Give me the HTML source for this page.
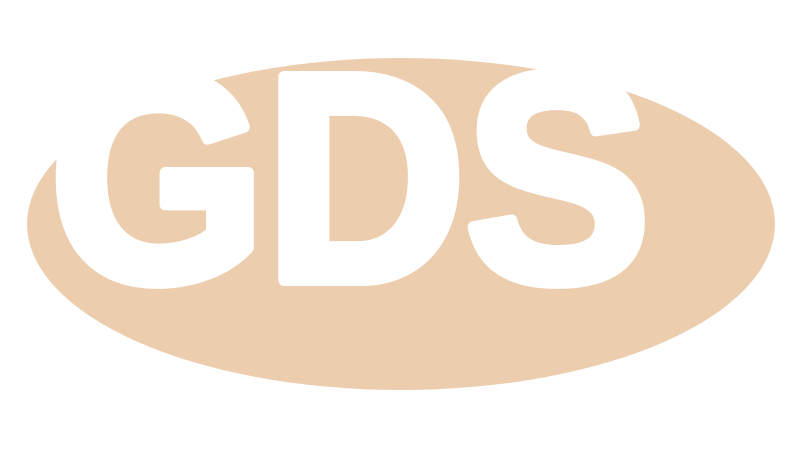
<!DOCTYPE html>
<html>
<head>
<meta charset="utf-8">
<style>
  html,body{margin:0;padding:0;background:#ffffff;}
  svg{display:block;}
</style>
</head>
<body>
<svg width="800" height="450" viewBox="0 0 800 450">
  <rect x="0" y="0" width="800" height="450" fill="#ffffff"/>
  <ellipse cx="401" cy="224" rx="374" ry="166" fill="#eccdae"/>
  <text x="50" y="280" font-family="'Liberation Sans', sans-serif" font-weight="bold" font-size="295" fill="#ffffff" stroke="#ffffff" stroke-width="12" stroke-linejoin="round" textLength="600" lengthAdjust="spacingAndGlyphs">GDS</text>
</svg>
</body>
</html>
